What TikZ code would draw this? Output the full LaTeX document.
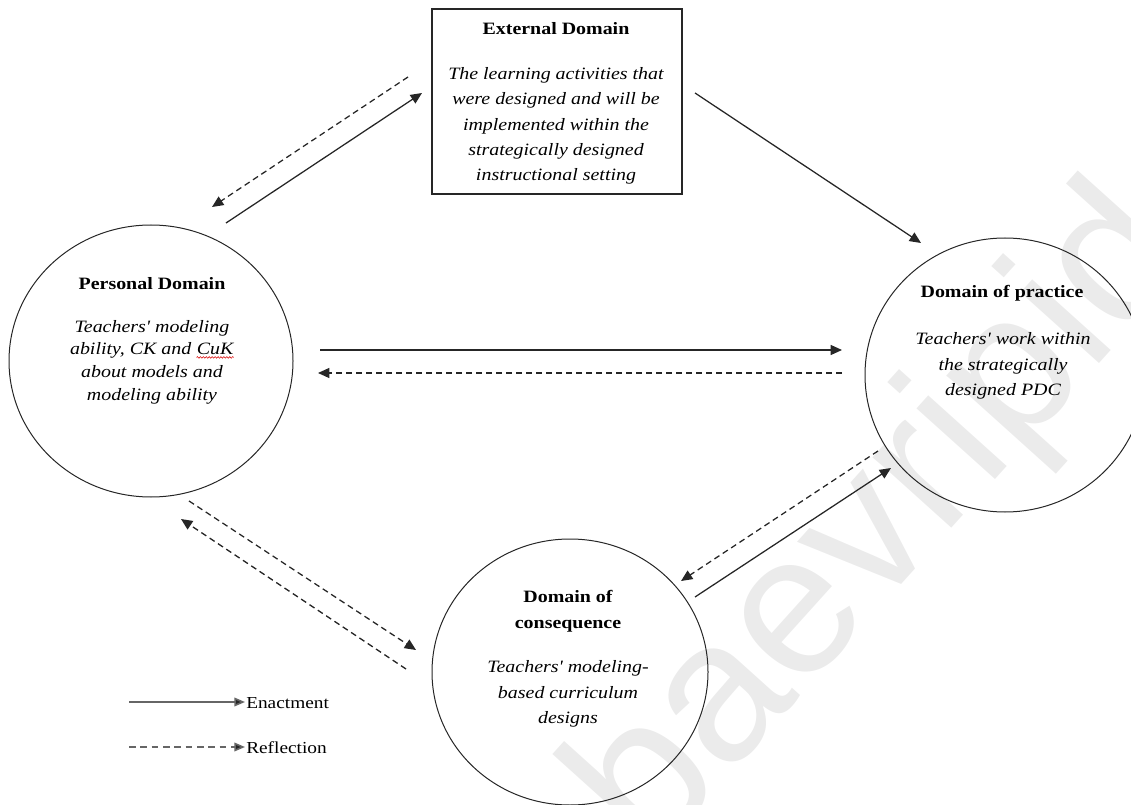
\documentclass[tikz,border=0pt]{standalone}
\usepackage{fontspec}
\setmainfont{Liberation Serif}[FakeStretch=1.15, Ligatures=TeXOff]
\newfontfamily\markfont{Liberation Sans}
\usetikzlibrary{arrows.meta,shapes.geometric,decorations.pathmorphing}

% red spell-check squiggle under a word
\newcommand{\squig}[1]{\tikz[baseline=(w.base)]{\node[inner sep=0pt] (w) {#1};
  \draw[red!85!black, line width=0.4pt, decorate,
        decoration={snake, amplitude=0.6pt, segment length=2.2pt}]
    ([yshift=-1.6pt]w.south west) -- ([yshift=-1.6pt]w.south east);}}

\tikzset{
  domnode/.style={draw=black!85, line width=0.75pt, ellipse, inner sep=0pt},
  extbox/.style={draw=black!85, line width=0.9pt, rectangle, inner sep=0pt},
  titletext/.style={font=\fontsize{13pt}{19.5pt}\selectfont\bfseries, align=center, inner sep=0pt},
  bodytext/.style={font=\fontsize{13pt}{19pt}\selectfont\itshape, align=center, inner sep=0pt},
  enact/.style={draw=black!85, line width=0.95pt, -{Triangle[length=8.5pt,width=7.5pt]}},
  reflect/.style={enact, dash pattern=on 4.5pt off 3pt},
  legarrow/.style={draw=black!60, line width=1.2pt, -{Triangle[length=8pt,width=6.5pt, fill=black!85]}},
  legtext/.style={font=\fontsize{12.6pt}{14pt}\selectfont, anchor=west, inner sep=0pt},
}

\begin{document}
\begin{tikzpicture}[x=0.75pt, y=-0.75pt]
  \useasboundingbox (0,0) rectangle (1131,805);

  % faint watermark behind everything
  \begin{scope}
    \clip (0,0) rectangle (1131,805);
    \node[rotate=48, text=black!8, font=\markfont\fontsize{150pt}{150pt}\selectfont, inner sep=0pt]
      (mark) at (885,525) {baevripid};
  \end{scope}

  % the four domains
  \node[extbox, minimum width=187.5pt, minimum height=138.75pt] (ext) at (557,101.5) {};
  \node[domnode, minimum width=213pt, minimum height=204pt] (pers) at (151,361) {};
  \node[domnode, minimum width=210pt, minimum height=205.5pt] (prac) at (1005,375) {};
  \node[domnode, minimum width=207pt, minimum height=199.5pt] (cons) at (570,672) {};

  % texts
  \node[titletext] (extT) at (556,29) {External Domain};
  \node[bodytext] (extB) at (556,126) {The learning activities that\\were designed and will be\\implemented within the\\strategically designed\\instructional setting};

  \node[titletext] (persT) at (152,284) {Personal Domain};
  \node[bodytext, font=\fontsize{13pt}{17pt}\selectfont\itshape] (persB) at (152,362)
    {Teachers' modeling\\ability, CK and \squig{CuK}\\about models and\\modeling ability};

  \node[titletext] (pracT) at (1002,293) {Domain of practice};
  \node[bodytext] (pracB) at (1003,366) {Teachers' work within\\the strategically\\designed PDC};

  \node[titletext] (consT) at (568,611) {Domain of\\consequence};
  \node[bodytext] (consB) at (568,694) {Teachers' modeling-\\based curriculum\\designs};

  % arrow end points
  \coordinate (ep1) at (408,77);   \coordinate (ep2) at (212,207);
  \coordinate (pe1) at (226,223);  \coordinate (pe2) at (422,93);
  \coordinate (ex1) at (695,93);   \coordinate (ex2) at (921,243);
  \coordinate (pp1) at (320,350);  \coordinate (pp2) at (842,350);
  \coordinate (rp1) at (842,373);  \coordinate (rp2) at (318,373);
  \coordinate (rc1) at (878,451);  \coordinate (rc2) at (681,581);
  \coordinate (cp1) at (695,597);  \coordinate (cp2) at (891,468);
  \coordinate (pc1) at (189,501);  \coordinate (pc2) at (416,650);
  \coordinate (cr1) at (406,669);  \coordinate (cr2) at (181,519);

  % connectors between the domains
  \draw[reflect] (ep1) -- (ep2);
  \draw[enact]   (pe1) -- (pe2);
  \draw[enact]   (ex1) -- (ex2);
  \draw[enact]   (pp1) -- (pp2);
  \draw[reflect] (rp1) -- (rp2);
  \draw[reflect] (rc1) -- (rc2);
  \draw[enact]   (cp1) -- (cp2);
  \draw[reflect] (pc1) -- (pc2);
  \draw[reflect] (cr1) -- (cr2);

  % legend
  \coordinate (l1a) at (129,702); \coordinate (l1b) at (245,702);
  \coordinate (l2a) at (129,747); \coordinate (l2b) at (245,747);
  \draw[legarrow] (l1a) -- (l1b);
  \draw[legarrow, dash pattern=on 5pt off 3.5pt] (l2a) -- (l2b);
  \node[legtext] (lenact) at (246,703) {Enactment};
  \node[legtext] (lrefl) at (246,748) {Reflection};
\end{tikzpicture}
\end{document}
